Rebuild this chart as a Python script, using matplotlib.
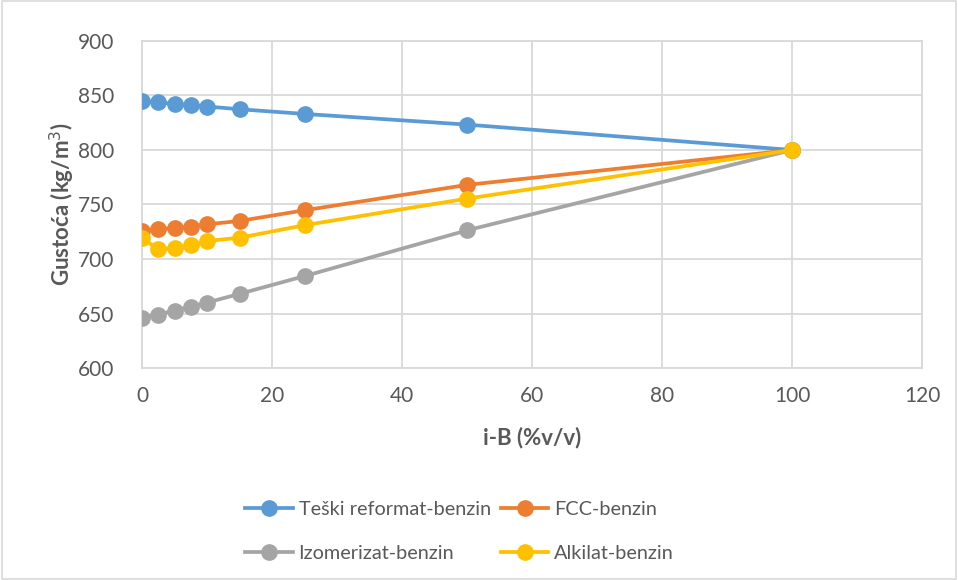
import matplotlib.pyplot as plt
from matplotlib.patches import Rectangle

# i-B udio (%v/v)
x = [0, 2.5, 5, 7.5, 10, 15, 25, 50, 100]

teski_reformat = [844.8, 843.6, 842.4, 841.1, 839.9, 837.4, 833.1, 823.3, 800]
fcc = [725.7, 727.8, 728.1, 729.7, 731.8, 734.9, 744.7, 768.0, 800]
izomerizat = [645.9, 649.0, 652.7, 656.4, 660.0, 668.0, 684.3, 726.3, 800]
alkilat = [719.5, 708.8, 710.3, 712.8, 716.5, 719.5, 731.0, 755.4, 800]

names = ['Teški reformat-benzin', 'FCC-benzin', 'Izomerizat-benzin', 'Alkilat-benzin']
colors = ['#5b9bd5', '#ed7d31', '#a5a5a5', '#ffc000']

plt.rcParams['font.family'] = ['Lato', 'DejaVu Sans']
txt = '#595959'

fig = plt.figure(figsize=(9.58, 5.8), dpi=100)
ax = fig.add_axes([142 / 958, 1 - 368 / 580, 780 / 958, 327 / 580])

lines = []
for series, name, c in zip([teski_reformat, fcc, izomerizat, alkilat], names, colors):
    ln, = ax.plot(x, series, color=c, lw=2.7, marker='o', ms=11, label=name, zorder=3)
    lines.append(ln)

ax.set_xlim(0, 120)
ax.set_ylim(600, 900)
ax.set_xticks(range(0, 121, 20))
ax.set_yticks(range(600, 901, 50))
ax.grid(True, color='#d9d9d9', lw=1.3)
ax.set_axisbelow(True)
for s in ax.spines.values():
    s.set_color('#d9d9d9')
    s.set_linewidth(1.3)
ax.tick_params(axis='both', length=0, labelsize=15, colors=txt)
ax.tick_params(axis='y', pad=20)
ax.tick_params(axis='x', pad=13)

ax.set_xlabel('i-B (%v/v)', fontsize=16, fontweight='bold', color=txt)
ax.set_ylabel('Gustoća (kg/m$^3$)', fontsize=16, fontweight='bold', color=txt)
ax.xaxis.set_label_coords(0.5, (368 - 438) / 327, transform=ax.transAxes)
ax.yaxis.set_label_coords((62 - 142) / 780, 0.5, transform=ax.transAxes)
ax.xaxis.label.set_va('center')
ax.yaxis.label.set_va('center')

# excel puni legendu po redovima
order = [0, 2, 1, 3]
ax.legend([lines[i] for i in order], [names[i] for i in order],
          loc='upper left', bbox_to_anchor=(245 / 958, 1 - 501 / 580),
          bbox_transform=fig.transFigure, ncol=2, frameon=False,
          fontsize=14.3, labelcolor=txt, handlelength=2.4, columnspacing=0.5,
          handletextpad=0.3, labelspacing=1.35, borderpad=0, borderaxespad=0)

fig.patches.append(Rectangle((0.002, 0.002), 0.996, 0.996, transform=fig.transFigure,
                             fill=False, edgecolor='#d9d9d9', lw=1.2))

fig.savefig('out.png', dpi=100)
